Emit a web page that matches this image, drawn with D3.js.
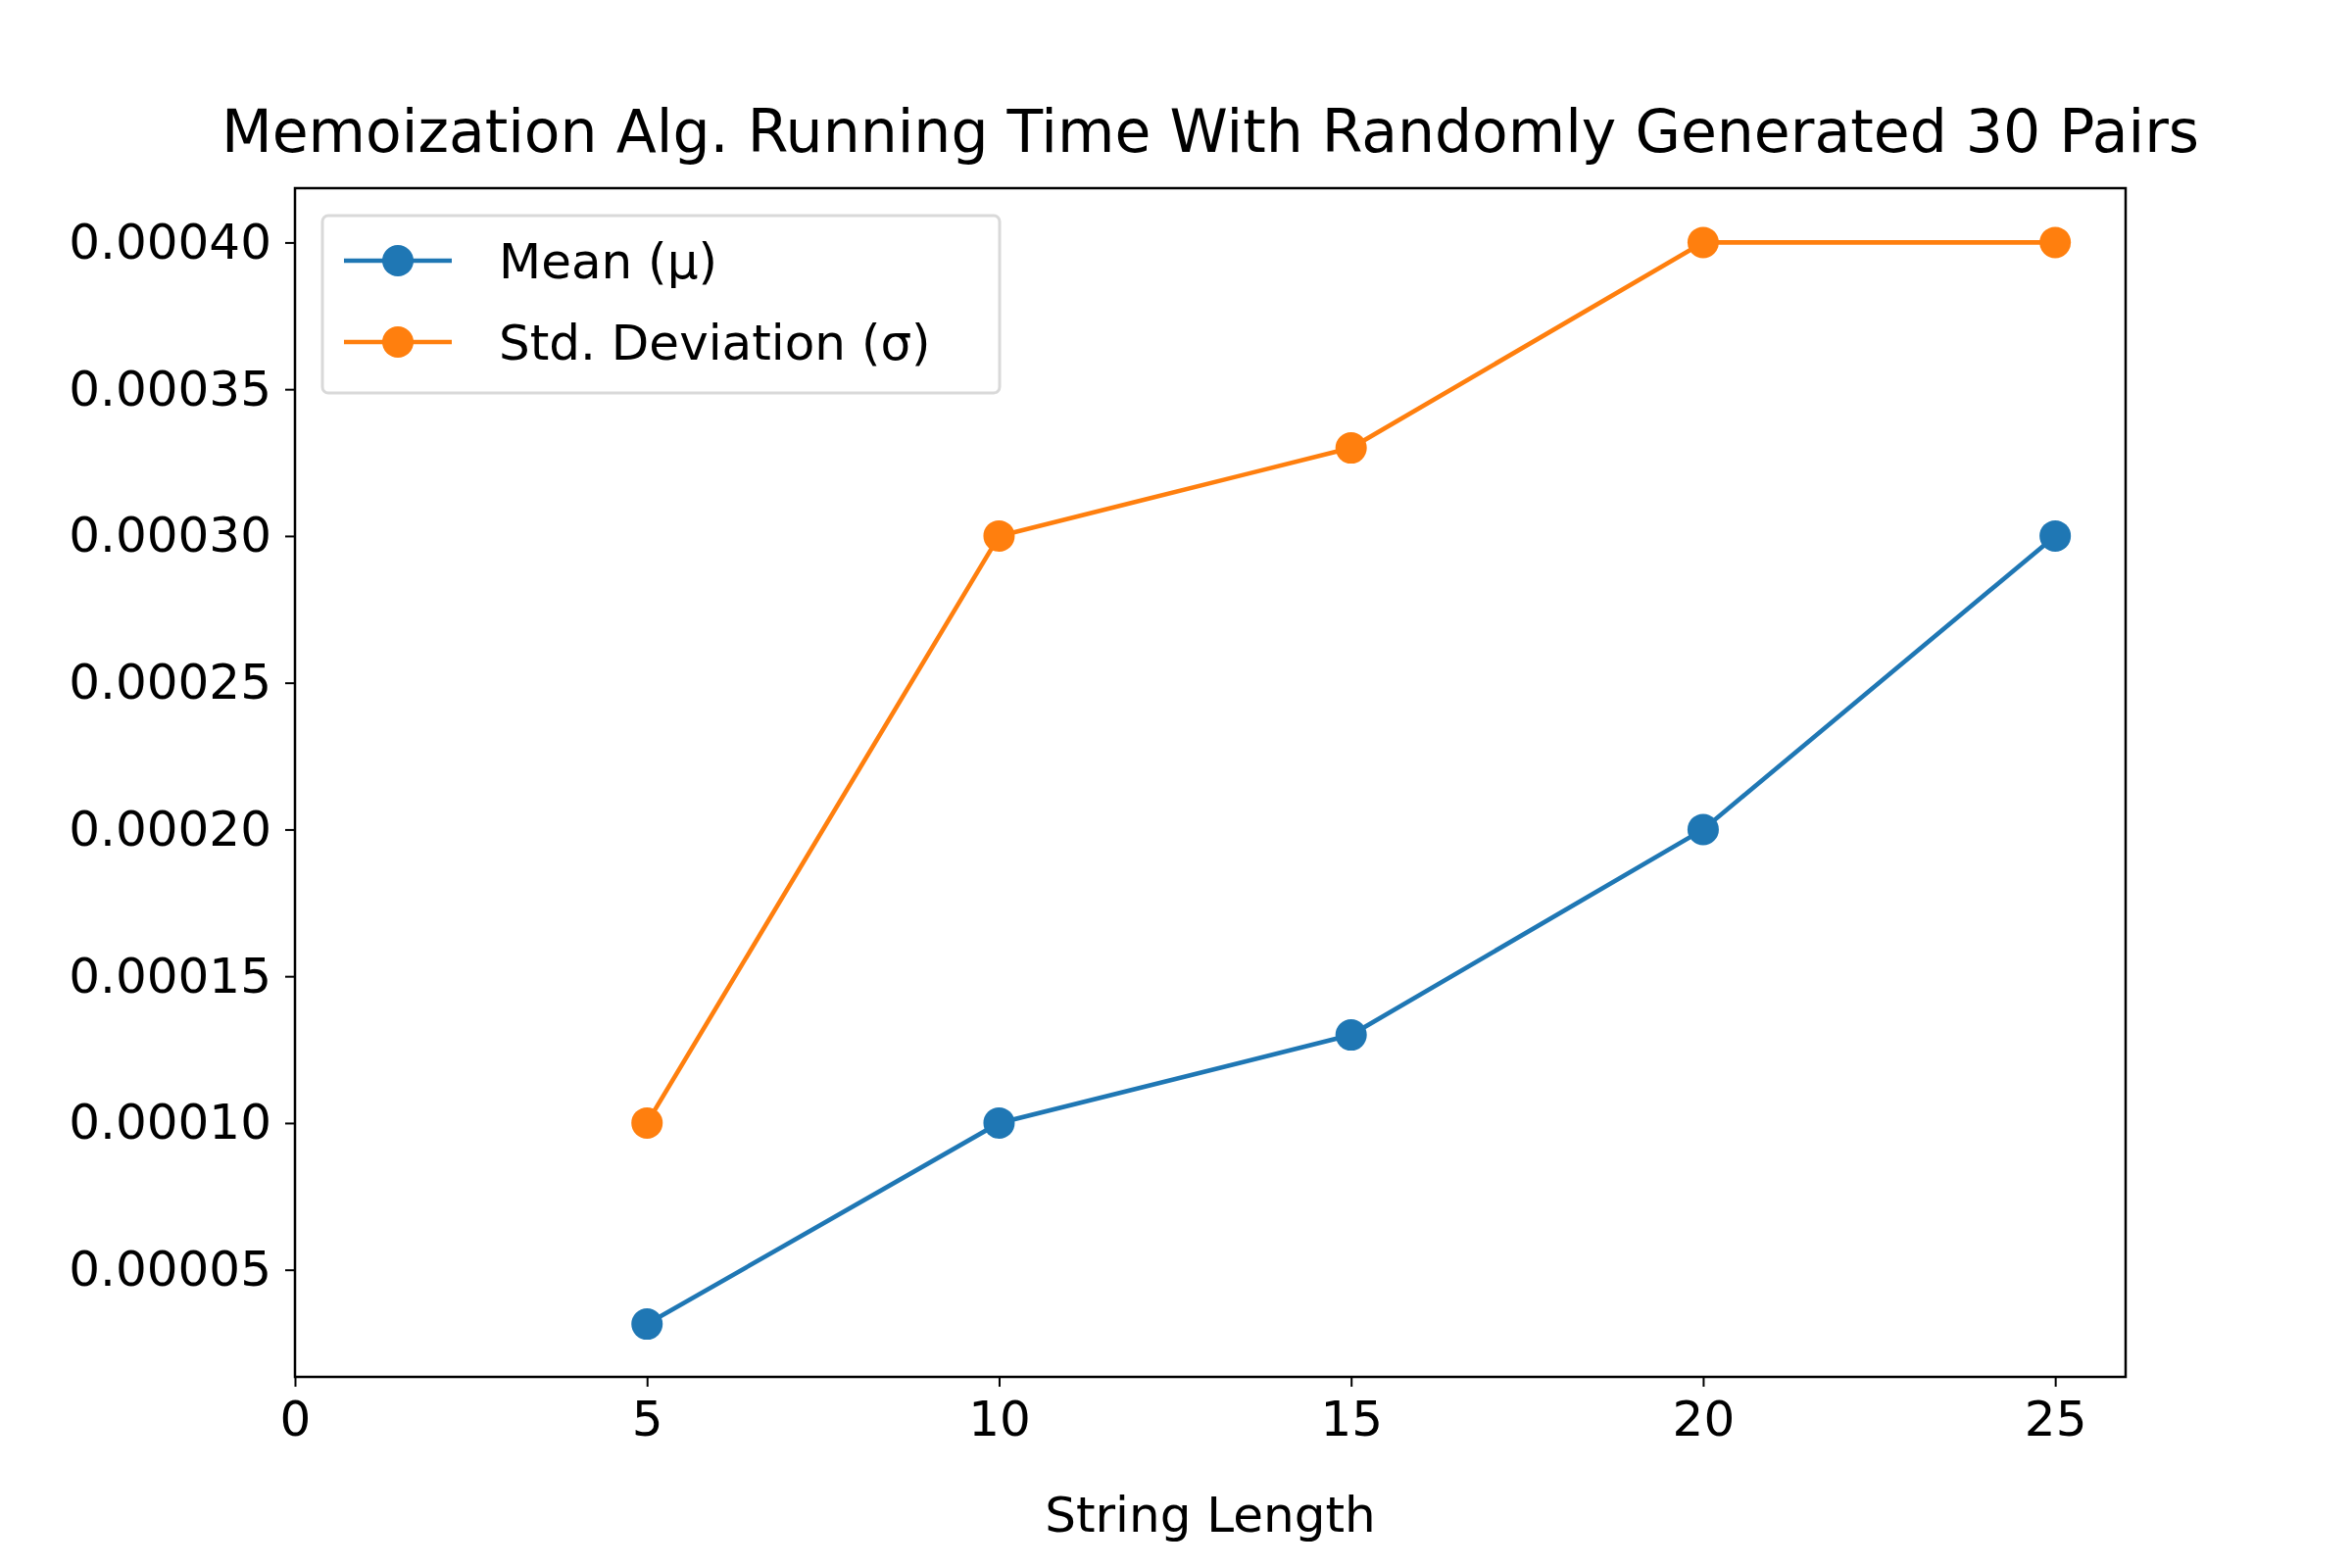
<!DOCTYPE html>
<html>
<head>
<meta charset="utf-8">
<script src="https://cdn.jsdelivr.net/npm/d3@7"></script>
<style>body{margin:0;background:#fff}text{font-family:"DejaVu Sans",sans-serif}</style>
</head>
<body>
<script>
var lengths = [5, 10, 15, 20, 25];
var meanTimes = [0.0000315, 0.0001, 0.00013, 0.0002, 0.0003];
var stdTimes = [0.0001, 0.0003, 0.00033, 0.0004, 0.0004];
var xTicks = [0, 5, 10, 15, 20, 25];
var yTicks = [0.00005, 0.0001, 0.00015, 0.0002, 0.00025, 0.0003, 0.00035, 0.0004];
var series = [
    {name: "Mean (\u03bc)", values: meanTimes, color: "#1f77b4"},
    {name: "Std. Deviation (\u03c3)", values: stdTimes, color: "#ff7f0e"}
];

var W = 2400, H = 1600, L = 301, R = 2169, T = 192, B = 1405;
var svg = d3.select("body").append("svg").attr("width", W).attr("height", H);
var x = d3.scaleLinear().domain([0, 26]).range([L, R]);
var y = d3.scaleLinear().domain([0.0000135, 0.0004185]).range([B, T]);

var xa = svg.append("g").attr("transform", "translate(0," + B + ")")
    .call(d3.axisBottom(x).tickValues(xTicks).tickSize(10).tickPadding(14).tickFormat(d3.format("d")));
var ya = svg.append("g").attr("transform", "translate(" + L + ",0)")
    .call(d3.axisLeft(y).tickValues(yTicks).tickSize(10).tickPadding(14).tickFormat(d3.format(".5f")));
[xa, ya].forEach(function (a) {
    a.selectAll("text").attr("font-size", 50).attr("fill", "#000").style("font-family", "DejaVu Sans");
    a.selectAll("line").attr("stroke", "#000").attr("stroke-width", 2);
    a.select(".domain").remove();
});
svg.append("rect").attr("x", L).attr("y", T).attr("width", R - L).attr("height", B - T)
    .attr("fill", "none").attr("stroke", "#000").attr("stroke-width", 2.5);

var line = d3.line().x(function (d, i) { return x(lengths[i]); }).y(function (d) { return y(d); });
series.forEach(function (s) {
    svg.append("path").attr("d", line(s.values)).attr("fill", "none")
        .attr("stroke", s.color).attr("stroke-width", 4.6);
    svg.selectAll(null).data(s.values).enter().append("circle")
        .attr("cx", function (d, i) { return x(lengths[i]); })
        .attr("cy", function (d) { return y(d); })
        .attr("r", 16).attr("fill", s.color);
});

svg.append("text").attr("x", (L + R) / 2).attr("y", 155).attr("text-anchor", "middle")
    .attr("font-size", 60).text("Memoization Alg. Running Time With Randomly Generated 30 Pairs");
svg.append("text").attr("x", (L + R) / 2).attr("y", 1563).attr("text-anchor", "middle")
    .attr("font-size", 50).text("String Length");
svg.append("text").attr("transform", "translate(-16," + ((T + B) / 2) + ") rotate(-90)")
    .attr("text-anchor", "middle").attr("font-size", 50).text("Running Time (s)");

var lg = svg.append("g");
lg.append("rect").attr("x", 329).attr("y", 220).attr("width", 691).attr("height", 181).attr("rx", 6)
    .attr("fill", "#fff").attr("fill-opacity", 0.8).attr("stroke", "#d9d9d9").attr("stroke-width", 3);
series.forEach(function (s, i) {
    var yy = 266 + i * 83;
    lg.append("line").attr("x1", 351).attr("x2", 461).attr("y1", yy).attr("y2", yy)
        .attr("stroke", s.color).attr("stroke-width", 4.6);
    lg.append("circle").attr("cx", 406).attr("cy", yy).attr("r", 16).attr("fill", s.color);
    lg.append("text").attr("x", 509).attr("y", yy + 18).attr("font-size", 50).text(s.name);
});
</script>
</body>
</html>
